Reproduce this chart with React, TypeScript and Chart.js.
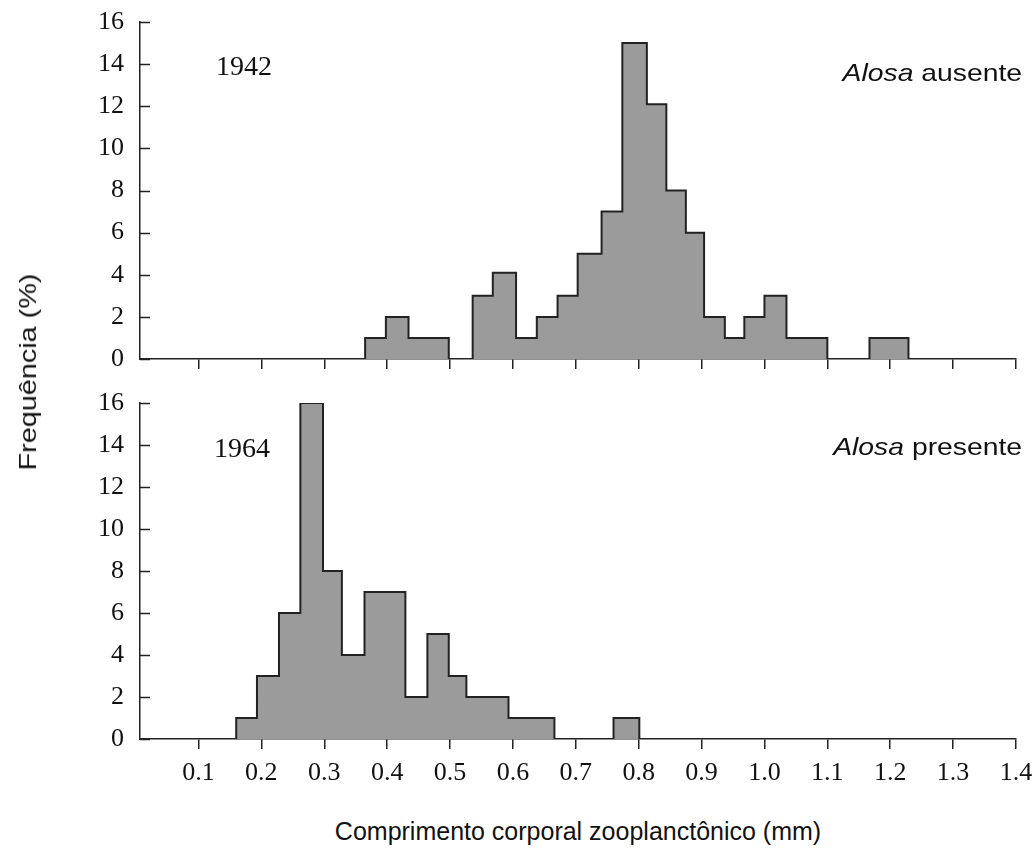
import React, { useEffect, useRef } from "react";
import { Chart, registerables } from "chart.js";

Chart.register(...registerables);

// ---- data ----
const xTickValues = [0.1, 0.2, 0.3, 0.4, 0.5, 0.6, 0.7, 0.8, 0.9, 1.0, 1.1, 1.2, 1.3, 1.4];
const yTickValues = [0, 2, 4, 6, 8, 10, 12, 14, 16];

// 1942 — Alosa ausente: bin edges (mm) and frequency (%)
const edges1942 = [
  0.365, 0.398, 0.434, 0.466, 0.498, 0.536, 0.568, 0.605, 0.638, 0.671, 0.703, 0.741, 0.774, 0.813,
  0.844, 0.875, 0.904, 0.937, 0.968, 1.0, 1.035, 1.067, 1.1, 1.133, 1.167, 1.198, 1.229,
];
const freq1942 = [1, 2, 1, 1, 0, 3, 4.1, 1, 2, 3, 5, 7, 15, 12.1, 8, 6, 2, 1, 2, 3, 1, 1, 0, 0, 1, 1];

// 1964 — Alosa presente
const edges1964 = [
  0.16, 0.193, 0.228, 0.262, 0.298, 0.328, 0.364, 0.396, 0.429, 0.464, 0.498, 0.526, 0.56, 0.593,
  0.63, 0.666, 0.7, 0.73, 0.76, 0.801,
];
const freq1964 = [1, 3, 6, 16, 8, 4, 7, 7, 2, 5, 3, 2, 2, 1, 1, 0, 0, 0, 1];

const AXIS = "#222222";
const FILL = "#9b9b9b";
const SERIF = "'Liberation Serif', 'Times New Roman', serif";
const SANS = "'Liberation Sans', Arial, sans-serif";

function histPoints(edges: number[], freq: number[]) {
  const pts: { x: number; y: number }[] = [{ x: edges[0], y: 0 }];
  freq.forEach((v, i) => pts.push({ x: edges[i], y: v }));
  pts.push({ x: edges[edges.length - 1], y: 0 });
  return pts;
}

const innerTicks = {
  id: "innerTicks",
  afterDraw(chart: any) {
    const ys = chart.scales.y;
    const ctx = chart.ctx;
    const left = chart.chartArea.left;
    ctx.save();
    ctx.strokeStyle = AXIS;
    ctx.lineWidth = 1.5;
    yTickValues.forEach((v) => {
      const py = Math.round(ys.getPixelForValue(v)) + 0.5;
      ctx.beginPath();
      ctx.moveTo(left, py);
      ctx.lineTo(left + 10, py);
      ctx.stroke();
    });
    ctx.restore();
  },
};

function makeConfig(edges: number[], freq: number[], showLabels: boolean, axisHeight: number, padTop: number): any {
  return {
    type: "line",
    data: {
      datasets: [
        {
          data: histPoints(edges, freq),
          stepped: "before",
          fill: "origin",
          backgroundColor: FILL,
          borderColor: AXIS,
          borderWidth: 2,
          pointRadius: 0,
          tension: 0,
        },
      ],
    },
    options: {
      animation: false,
      responsive: false,
      maintainAspectRatio: false,
      events: [],
      layout: { padding: { top: padTop, right: 20, left: 0, bottom: 0 } },
      plugins: { legend: { display: false }, tooltip: { enabled: false } },
      scales: {
        x: {
          type: "linear",
          min: 0.007,
          max: 1.4,
          afterBuildTicks: (s: any) => {
            s.ticks = xTickValues.map((v) => ({ value: v }));
          },
          afterFit: (s: any) => {
            s.height = axisHeight;
            s.paddingTop = 0;
            s.paddingBottom = 0;
            s.paddingLeft = 0;
            s.paddingRight = 0;
          },
          grid: {
            display: true,
            drawOnChartArea: false,
            drawTicks: true,
            tickLength: 10,
            color: AXIS,
            lineWidth: 1.5,
          },
          border: { display: true, color: AXIS, width: 1.5 },
          ticks: {
            display: showLabels,
            padding: 9,
            maxRotation: 0,
            autoSkip: false,
            color: "#111",
            font: { family: SERIF, size: 26 },
            callback: (v: any) => Number(v).toFixed(1),
          },
        },
        y: {
          type: "linear",
          min: 0,
          max: 16,
          afterBuildTicks: (s: any) => {
            s.ticks = yTickValues.map((v) => ({ value: v }));
          },
          afterFit: (s: any) => {
            s.width = 140;
            s.paddingTop = 0;
            s.paddingBottom = 0;
          },
          grid: { display: false, drawTicks: false },
          border: { display: true, color: AXIS, width: 1.5 },
          ticks: {
            padding: 16,
            color: "#111",
            font: { family: SERIF, size: 26 },
            callback: (v: any) => String(v),
          },
        },
      },
    },
    plugins: [innerTicks],
  };
}

export default function App() {
  const topRef = useRef<HTMLCanvasElement | null>(null);
  const botRef = useRef<HTMLCanvasElement | null>(null);

  useEffect(() => {
    const c1 = new Chart(topRef.current as HTMLCanvasElement, makeConfig(edges1942, freq1942, false, 21, 22));
    const c2 = new Chart(botRef.current as HTMLCanvasElement, makeConfig(edges1964, freq1964, true, 61, 23));
    return () => {
      c1.destroy();
      c2.destroy();
    };
  }, []);

  const abs: React.CSSProperties = { position: "absolute", whiteSpace: "nowrap", color: "#111" };

  return (
    <div style={{ position: "absolute", left: 0, top: 0, width: 1036, height: 850, background: "#fff", overflow: "hidden" }}>
      <canvas ref={topRef} width={1036} height={380} style={{ position: "absolute", left: 0, top: 0 }} />
      <canvas ref={botRef} width={1036} height={420} style={{ position: "absolute", left: 0, top: 380 }} />

      <div style={{ ...abs, left: 216, top: 51.5, fontFamily: SERIF, fontSize: 28, lineHeight: "28px" }}>1942</div>
      <div style={{ ...abs, left: 214, top: 434, fontFamily: SERIF, fontSize: 28, lineHeight: "28px" }}>1964</div>

      <div
        style={{
          ...abs,
          right: 14,
          top: 60.7,
          fontFamily: SANS,
          fontSize: 24,
          lineHeight: "24px",
          transform: "scaleX(1.18)",
          transformOrigin: "right center",
        }}
      >
        <i>Alosa</i> ausente
      </div>
      <div
        style={{
          ...abs,
          right: 14,
          top: 434.7,
          fontFamily: SANS,
          fontSize: 24,
          lineHeight: "24px",
          transform: "scaleX(1.18)",
          transformOrigin: "right center",
        }}
      >
        <i>Alosa</i> presente
      </div>

      <div
        style={{
          ...abs,
          left: 28,
          top: 372,
          fontFamily: SANS,
          fontSize: 24,
          lineHeight: "24px",
          transform: "translate(-50%, -50%) rotate(-90deg) scaleX(1.2)",
        }}
      >
        Frequência (%)
      </div>

      <div
        style={{
          ...abs,
          left: 578,
          top: 819,
          fontFamily: SANS,
          fontSize: 25,
          lineHeight: "25px",
          transform: "translateX(-50%)",
        }}
      >
        Comprimento corporal zooplanctônico (mm)
      </div>
    </div>
  );
}
